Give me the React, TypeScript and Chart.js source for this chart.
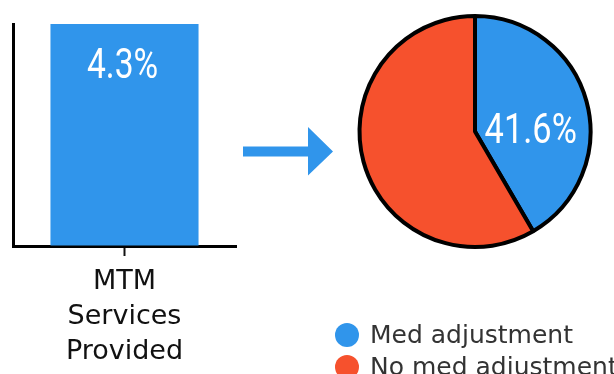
import React, { useEffect, useRef } from "react";
import { Chart, registerables } from "chart.js";

Chart.register(...registerables);

// ---- data ----
const barCategories = [["MTM", "Services", "Provided"]];
const barValues = [4.3];
const barValueLabels = ["4.3%"];
const pieCategories = ["Med adjustment", "No med adjustment"];
const pieValues = [41.6, 58.4];
const pieValueLabels = ["41.6%", ""];

const BLUE = "#3095EB";
const RED = "#F6512D";

const barLabelPlugin = {
  id: "barValueLabel",
  afterDatasetsDraw(chart: any) {
    const ctx = chart.ctx;
    const meta = chart.getDatasetMeta(0);
    meta.data.forEach((el: any, i: number) => {
      const t = barValueLabels[i];
      if (!t) return;
      ctx.save();
      ctx.font = "42px Roboto";
      ctx.fillStyle = "#ffffff";
      ctx.textAlign = "center";
      ctx.textBaseline = "alphabetic";
      ctx.translate(el.x - 2, el.y + 54);
      ctx.scale(0.8, 1);
      ctx.fillText(t, 0, 0);
      ctx.restore();
    });
  },
};

const pieLabelPlugin = {
  id: "pieValueLabel",
  afterDatasetsDraw(chart: any) {
    const ctx = chart.ctx;
    const meta = chart.getDatasetMeta(0);
    meta.data.forEach((el: any, i: number) => {
      const t = pieValueLabels[i];
      if (!t) return;
      const mid = (el.startAngle + el.endAngle) / 2;
      const x = el.x + Math.cos(mid) * el.outerRadius * 0.5;
      const y = el.y + 11.5;
      ctx.save();
      ctx.font = "43px Roboto";
      ctx.fillStyle = "#ffffff";
      ctx.textAlign = "center";
      ctx.textBaseline = "alphabetic";
      ctx.translate(x, y);
      ctx.scale(0.8, 1);
      ctx.fillText(t, 0, 0);
      ctx.restore();
    });
  },
};

export default function App() {
  const barRef = useRef<HTMLCanvasElement>(null);
  const pieRef = useRef<HTMLCanvasElement>(null);

  useEffect(() => {
    const bar = new Chart(barRef.current as HTMLCanvasElement, {
      type: "bar",
      data: {
        labels: barCategories as any,
        datasets: [
          {
            data: barValues,
            backgroundColor: BLUE,
            barPercentage: 0.664,
            categoryPercentage: 1,
          },
        ],
      },
      options: {
        animation: false,
        responsive: false,
        maintainAspectRatio: false,
        layout: { padding: { left: 13, right: 9, top: 24, bottom: 0 } },
        plugins: { legend: { display: false }, tooltip: { enabled: false } },
        scales: {
          x: {
            grid: {
              display: true,
              drawOnChartArea: false,
              offset: false,
              drawTicks: true,
              tickLength: 10,
              tickColor: "#111",
              tickWidth: 2,
            },
            border: { display: true, color: "#000", width: 3 },
            ticks: {
              color: "#111",
              font: { family: "DejaVu Sans", size: 27, lineHeight: 1.31 },
              padding: 8,
              maxRotation: 0,
              autoSkip: false,
            },
            afterFit(s: any) {
              s.height = 128;
            },
          },
          y: {
            min: 0,
            max: 4.3,
            ticks: { display: false },
            grid: { display: true, drawOnChartArea: false, drawTicks: false },
            border: { display: true, color: "#000", width: 3 },
            afterFit(s: any) {
              s.width = 0;
            },
          },
        },
      } as any,
      plugins: [barLabelPlugin],
    });

    const pie = new Chart(pieRef.current as HTMLCanvasElement, {
      type: "pie",
      data: {
        labels: pieCategories,
        datasets: [
          {
            data: pieValues,
            backgroundColor: [BLUE, RED],
            borderColor: "#000",
            borderWidth: 4,
          },
        ],
      },
      options: {
        animation: false,
        responsive: false,
        maintainAspectRatio: false,
        radius: 115.5,
        layout: { padding: 0 },
        plugins: { legend: { display: false }, tooltip: { enabled: false } },
      } as any,
      plugins: [pieLabelPlugin],
    });

    return () => {
      bar.destroy();
      pie.destroy();
    };
  }, []);

  const legendColors = [BLUE, RED];

  return (
    <div
      style={{
        position: "fixed",
        left: 0,
        top: 0,
        width: 614,
        height: 374,
        overflow: "hidden",
        background: "#fff",
      }}
    >
      <canvas
        ref={barRef}
        width={245}
        height={374}
        style={{ position: "absolute", left: 0, top: 0, width: 245, height: 374 }}
      />
      <svg
        width={614}
        height={374}
        style={{ position: "absolute", left: 0, top: 0 }}
      >
        <polygon
          points="243,146.5 308,146.5 308,127 333,151.5 308,175.5 308,156.5 243,156.5"
          fill={BLUE}
        />
      </svg>
      <canvas
        ref={pieRef}
        width={240}
        height={241}
        style={{ position: "absolute", left: 355, top: 11, width: 240, height: 241 }}
      />
      {pieCategories.map((name, i) => (
        <div
          key={name}
          style={{
            position: "absolute",
            left: 335,
            top: 318.5 + i * 32,
            height: 32,
            display: "flex",
            alignItems: "center",
            whiteSpace: "nowrap",
          }}
        >
          <span
            style={{
              display: "inline-block",
              width: 24,
              height: 24,
              borderRadius: "50%",
              background: legendColors[i],
              marginRight: 11,
            }}
          />
          <span
            style={{
              fontFamily: "'DejaVu Sans'",
              fontSize: 25,
              lineHeight: "32px",
              color: "#333",
            }}
          >
            {name}
          </span>
        </div>
      ))}
    </div>
  );
}
